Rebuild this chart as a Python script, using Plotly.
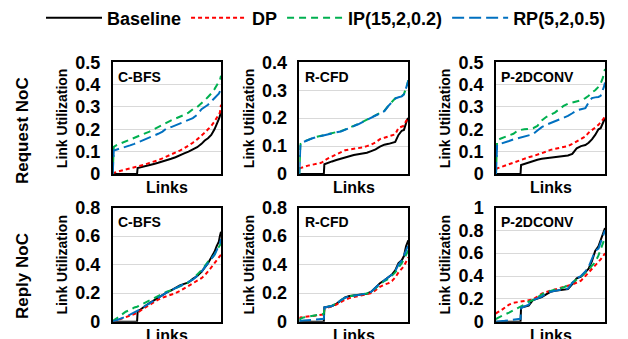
import plotly.graph_objects as go

LINKS = [0, 1, 4, 8, 12, 16, 20, 22.5, 23, 26, 30, 34, 38, 42, 46, 50, 54, 58, 62, 66,
         70, 74, 78, 82, 85, 88, 91, 94, 96, 98, 99, 100]

SERIES = ["Baseline", "DP", "IP(15,2,0.2)", "RP(5,2,0.5)"]
COLORS = ["#000000", "#ff0000", "#00b050", "#0070c0"]
DASHES = ["solid", "4px,3px", "7px,5px", "12px,5px"]

BENCH = ["C-BFS", "R-CFD", "P-2DCONV"]
ROWS = ["Request NoC", "Reply NoC"]

# Request NoC
REQ_CBFS_BASE = [0, 0, 0, 0, 0, 0, 0, 0, 0.027, 0.03, 0.035, 0.04, 0.045, 0.05, 0.055, 0.062,
                 0.068, 0.075, 0.085, 0.092, 0.1, 0.11, 0.12, 0.135, 0.15, 0.16, 0.175, 0.2, 0.22, 0.245, 0.26, 0.28]
REQ_CBFS_DP = [0, 0.005, 0.01, 0.015, 0.02, 0.025, 0.03, 0.032, 0.033, 0.037, 0.043, 0.05, 0.055, 0.062, 0.07, 0.078,
               0.086, 0.095, 0.105, 0.115, 0.127, 0.14, 0.155, 0.17, 0.185, 0.2, 0.215, 0.235, 0.25, 0.265, 0.275, 0.31]
REQ_CBFS_IP = [0, 0.122, 0.13, 0.138, 0.145, 0.152, 0.16, 0.165, 0.167, 0.172, 0.18, 0.19, 0.2, 0.21, 0.222, 0.232,
               0.24, 0.248, 0.255, 0.265, 0.275, 0.29, 0.3, 0.315, 0.33, 0.345, 0.36, 0.38, 0.395, 0.41, 0.42, 0.44]
REQ_CBFS_RP = [0, 0.105, 0.11, 0.115, 0.12, 0.128, 0.135, 0.14, 0.141, 0.148, 0.155, 0.162, 0.17, 0.18, 0.19, 0.205,
               0.21, 0.218, 0.225, 0.235, 0.242, 0.25, 0.265, 0.29, 0.3, 0.31, 0.325, 0.34, 0.35, 0.36, 0.37, 0.38]

REQ_RCFD_BASE = [0, 0, 0, 0, 0, 0, 0, 0, 0.035, 0.04, 0.045, 0.05, 0.055, 0.06, 0.064, 0.068,
                 0.071, 0.073, 0.076, 0.082, 0.088, 0.098, 0.105, 0.108, 0.112, 0.115, 0.14, 0.155, 0.158, 0.185, 0.195, 0.2]
REQ_RCFD_DP = [0.02, 0.022, 0.025, 0.03, 0.033, 0.036, 0.04, 0.045, 0.048, 0.055, 0.062, 0.07, 0.078, 0.085, 0.088, 0.09,
               0.092, 0.095, 0.1, 0.105, 0.113, 0.125, 0.13, 0.135, 0.138, 0.142, 0.165, 0.17, 0.173, 0.19, 0.195, 0.2]
REQ_RCFD_IP = [0, 0.107, 0.116, 0.123, 0.128, 0.133, 0.137, 0.139, 0.141, 0.144, 0.147, 0.15, 0.153, 0.159, 0.165, 0.171,
               0.179, 0.187, 0.195, 0.203, 0.211, 0.217, 0.226, 0.246, 0.259, 0.271, 0.276, 0.279, 0.286, 0.306, 0.321, 0.336]
REQ_RCFD_RP = [0, 0.105, 0.115, 0.122, 0.128, 0.132, 0.136, 0.139, 0.14, 0.143, 0.146, 0.149, 0.152, 0.158, 0.164, 0.17,
               0.178, 0.186, 0.194, 0.202, 0.21, 0.216, 0.225, 0.245, 0.258, 0.27, 0.275, 0.278, 0.285, 0.305, 0.32, 0.335]

REQ_P2D_BASE = [0, 0, 0, 0, 0, 0, 0, 0, 0.04, 0.045, 0.052, 0.058, 0.064, 0.068, 0.071, 0.074,
                0.076, 0.078, 0.08, 0.083, 0.09, 0.115, 0.125, 0.13, 0.14, 0.155, 0.175, 0.2, 0.205, 0.225, 0.24, 0.25]
REQ_P2D_DP = [0.02, 0.025, 0.03, 0.037, 0.045, 0.052, 0.06, 0.064, 0.065, 0.07, 0.075, 0.08, 0.086, 0.093, 0.1, 0.108,
              0.113, 0.117, 0.12, 0.125, 0.135, 0.145, 0.155, 0.168, 0.185, 0.195, 0.208, 0.22, 0.23, 0.243, 0.25, 0.26]
REQ_P2D_IP = [0, 0.15, 0.158, 0.165, 0.17, 0.18, 0.195, 0.198, 0.199, 0.2, 0.202, 0.205, 0.215, 0.24, 0.255, 0.265,
              0.275, 0.29, 0.305, 0.315, 0.32, 0.325, 0.33, 0.34, 0.35, 0.365, 0.375, 0.39, 0.405, 0.43, 0.45, 0.47]
REQ_P2D_RP = [0, 0.13, 0.135, 0.14, 0.148, 0.155, 0.16, 0.163, 0.164, 0.168, 0.172, 0.178, 0.195, 0.21, 0.22, 0.228,
              0.238, 0.245, 0.252, 0.26, 0.272, 0.285, 0.29, 0.295, 0.32, 0.34, 0.343, 0.345, 0.35, 0.375, 0.39, 0.41]

# Reply NoC
REP_CBFS_BASE = [0, 0, 0, 0, 0, 0, 0, 0, 0.07, 0.09, 0.11, 0.13, 0.15, 0.17, 0.19, 0.205,
                 0.22, 0.24, 0.255, 0.265, 0.275, 0.3, 0.32, 0.35, 0.38, 0.41, 0.45, 0.49, 0.53, 0.56, 0.6, 0.63]
REP_CBFS_DP = [0, 0.005, 0.01, 0.02, 0.03, 0.04, 0.052, 0.06, 0.062, 0.08, 0.1, 0.12, 0.14, 0.155, 0.168, 0.178,
               0.188, 0.2, 0.215, 0.232, 0.25, 0.265, 0.285, 0.305, 0.325, 0.35, 0.38, 0.41, 0.43, 0.45, 0.46, 0.47]
REP_CBFS_IP = [0, 0.01, 0.025, 0.05, 0.07, 0.082, 0.1, 0.105, 0.107, 0.12, 0.135, 0.15, 0.165, 0.18, 0.195, 0.21,
               0.22, 0.235, 0.25, 0.26, 0.275, 0.3, 0.33, 0.36, 0.39, 0.42, 0.44, 0.47, 0.5, 0.52, 0.535, 0.55]
REP_CBFS_RP = [0, 0.003, 0.01, 0.02, 0.035, 0.05, 0.065, 0.072, 0.074, 0.09, 0.11, 0.13, 0.15, 0.17, 0.19, 0.205,
               0.22, 0.235, 0.25, 0.26, 0.275, 0.295, 0.32, 0.35, 0.38, 0.41, 0.44, 0.47, 0.5, 0.53, 0.55, 0.58]

REP_RCFD_BASE = [0, 0, 0, 0, 0, 0, 0, 0, 0.1, 0.105, 0.11, 0.125, 0.15, 0.17, 0.18, 0.183,
                 0.186, 0.19, 0.196, 0.21, 0.24, 0.27, 0.29, 0.31, 0.33, 0.36, 0.41, 0.43, 0.46, 0.53, 0.56, 0.57]
REP_RCFD_DP = [0.02, 0.03, 0.033, 0.036, 0.04, 0.043, 0.047, 0.05, 0.09, 0.1, 0.108, 0.12, 0.14, 0.155, 0.165, 0.172,
               0.178, 0.184, 0.19, 0.2, 0.22, 0.245, 0.26, 0.27, 0.285, 0.31, 0.345, 0.37, 0.39, 0.42, 0.435, 0.45]
REP_RCFD_IP = [0.01, 0.02, 0.03, 0.035, 0.04, 0.045, 0.05, 0.055, 0.095, 0.105, 0.112, 0.128, 0.15, 0.168, 0.178, 0.182,
               0.186, 0.19, 0.198, 0.21, 0.235, 0.265, 0.285, 0.3, 0.32, 0.345, 0.38, 0.41, 0.44, 0.47, 0.49, 0.5]
REP_RCFD_RP = [0, 0.005, 0.008, 0.01, 0.012, 0.015, 0.018, 0.02, 0.1, 0.105, 0.11, 0.125, 0.15, 0.168, 0.178, 0.182,
               0.186, 0.19, 0.197, 0.21, 0.24, 0.268, 0.29, 0.31, 0.33, 0.355, 0.4, 0.43, 0.46, 0.5, 0.52, 0.53]

REP_P2D_BASE = [0, 0, 0, 0, 0, 0, 0, 0, 0.125, 0.13, 0.14, 0.19, 0.205, 0.215, 0.24, 0.262,
                0.27, 0.275, 0.28, 0.285, 0.33, 0.38, 0.395, 0.43, 0.465, 0.53, 0.62, 0.66, 0.72, 0.78, 0.8, 0.82]
REP_P2D_DP = [0.07, 0.08, 0.095, 0.12, 0.15, 0.165, 0.172, 0.176, 0.178, 0.18, 0.185, 0.195, 0.22, 0.245, 0.26, 0.272,
              0.285, 0.295, 0.305, 0.315, 0.325, 0.34, 0.36, 0.4, 0.43, 0.46, 0.49, 0.52, 0.545, 0.57, 0.59, 0.6]
REP_P2D_IP = [0.02, 0.03, 0.045, 0.06, 0.08, 0.1, 0.12, 0.13, 0.135, 0.15, 0.175, 0.19, 0.215, 0.235, 0.26, 0.27,
              0.28, 0.29, 0.3, 0.32, 0.34, 0.37, 0.395, 0.43, 0.455, 0.49, 0.52, 0.58, 0.64, 0.69, 0.71, 0.72]
REP_P2D_RP = [0, 0.002, 0.005, 0.008, 0.012, 0.015, 0.02, 0.025, 0.12, 0.13, 0.15, 0.19, 0.205, 0.22, 0.245, 0.262,
              0.27, 0.275, 0.28, 0.29, 0.34, 0.38, 0.4, 0.44, 0.48, 0.55, 0.62, 0.64, 0.7, 0.76, 0.79, 0.8]

PANELS = [
    [[REQ_CBFS_BASE, REQ_CBFS_DP, REQ_CBFS_IP, REQ_CBFS_RP],
     [REQ_RCFD_BASE, REQ_RCFD_DP, REQ_RCFD_IP, REQ_RCFD_RP],
     [REQ_P2D_BASE, REQ_P2D_DP, REQ_P2D_IP, REQ_P2D_RP]],
    [[REP_CBFS_BASE, REP_CBFS_DP, REP_CBFS_IP, REP_CBFS_RP],
     [REP_RCFD_BASE, REP_RCFD_DP, REP_RCFD_IP, REP_RCFD_RP],
     [REP_P2D_BASE, REP_P2D_DP, REP_P2D_IP, REP_P2D_RP]],
]
YMAX = [[0.5, 0.4, 0.5], [0.8, 0.8, 1.0]]
DTICK = [[0.1, 0.1, 0.1], [0.2, 0.2, 0.2]]

# page pixel positions (the page body has an 8px margin)
OFF = 8
W, H = 628 - OFF, 339 - OFF
COL_PX = [(112.7, 221.0), (299.3, 408.3), (496.0, 605.0)]
ROW_PX = [(62.3, 174.0), (207.5, 321.7)]
YT_X = [62, 249, 445]


def px(x):
    return (x - OFF) / W


def py(y):
    return 1 - (y - OFF) / H


FONT = "Liberation Sans, Arial, sans-serif"
fig = go.Figure()
annotations = []
layout = {}
k = 0
for r in range(2):
    for c in range(3):
        k += 1
        xa = "x" if k == 1 else f"x{k}"
        ya = "y" if k == 1 else f"y{k}"
        for s in range(4):
            fig.add_trace(go.Scatter(
                x=LINKS, y=PANELS[r][c][s], mode="lines", name=SERIES[s],
                line=dict(color=COLORS[s], width=2, dash=DASHES[s]),
                showlegend=(k == 1), xaxis=xa, yaxis=ya, hoverinfo="skip"))
        x0, x1 = COL_PX[c]
        y0, y1 = ROW_PX[r]
        layout["xaxis" if k == 1 else f"xaxis{k}"] = dict(
            domain=[px(x0), px(x1)], range=[0, 100], anchor=ya,
            showticklabels=False, showgrid=False, zeroline=False, ticks="",
            showline=True, linecolor="black", linewidth=1.5, mirror=True)
        layout["yaxis" if k == 1 else f"yaxis{k}"] = dict(
            domain=[py(y1), py(y0)], range=[0, YMAX[r][c]], dtick=DTICK[r][c],
            anchor=xa, showgrid=True, gridcolor="#d9d9d9", gridwidth=1, zeroline=False,
            showline=True, linecolor="black", linewidth=1.5, mirror=True, ticks="",
            ticklabelstandoff=7,
            tickfont=dict(family=FONT, size=18, color="black", weight="bold"))
        annotations.append(dict(
            text=BENCH[c], xref=f"{xa} domain", yref=f"{ya} domain", x=0.03, y=0.96,
            xanchor="left", yanchor="top", showarrow=False,
            font=dict(family=FONT, size=14, color="black", weight="bold")))
        annotations.append(dict(
            text="Links", xref=f"{xa} domain", yref="paper", x=0.5,
            y=py(y1 + 13.5), xanchor="center", yanchor="middle", showarrow=False,
            font=dict(family=FONT, size=16, color="black", weight="bold")))
        annotations.append(dict(
            text="Link Utilization", xref="paper", yref=f"{ya} domain", x=px(YT_X[c]),
            y=0.5, xanchor="center", yanchor="middle", textangle=-90, showarrow=False,
            font=dict(family=FONT, size=14, color="black", weight="bold")))

ROW_LABEL_Y = [131, 276]
for r in range(2):
    annotations.append(dict(
        text=ROWS[r], xref="paper", yref="paper", x=px(22), y=py(ROW_LABEL_Y[r]),
        xanchor="center", yanchor="middle", textangle=-90, showarrow=False,
        font=dict(family=FONT, size=17, color="black", weight="bold")))

fig.update_layout(
    width=W, height=H, margin=dict(l=0, r=0, t=0, b=0, autoexpand=False),
    paper_bgcolor="white", plot_bgcolor="white",
    annotations=annotations,
    legend=dict(orientation="h", xref="container", yref="container",
                x=px(41), xanchor="left", y=py(18), yanchor="middle",
                itemwidth=56, font=dict(family=FONT, size=18, color="black", weight="bold"),
                bgcolor="rgba(0,0,0,0)"),
    **layout,
)
fig.write_html("out.html")
